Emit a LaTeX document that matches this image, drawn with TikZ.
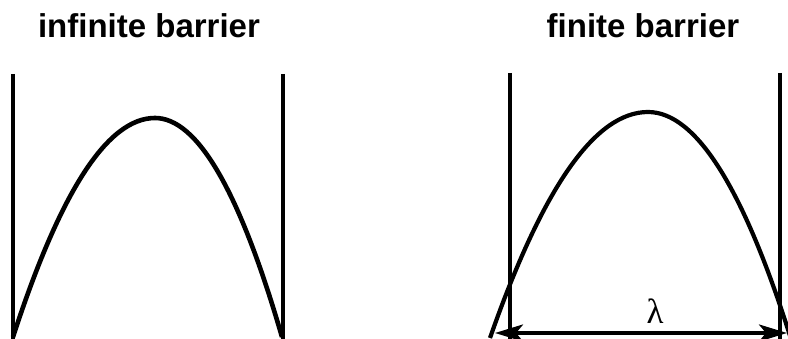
\documentclass[tikz,border=0pt]{standalone}
\usepackage{fontspec}
\setmainfont{Liberation Sans}
\newfontfamily\grfont{Liberation Serif}
\usetikzlibrary{arrows.meta}
\begin{document}
\begin{tikzpicture}[x=1pt,y=-1pt,
  titletext/.style={font=\fontsize{33}{40}\selectfont\bfseries, inner sep=0pt, anchor=base},
  wall/.style={line width=3.4pt},
  wave/.style={line width=4.6pt},
  wavethin/.style={line width=4.2pt},
  dim/.style={line width=3.8pt, {Stealth[length=28pt,width=17pt,inset=7pt]}-{Stealth[length=28pt,width=17pt,inset=7pt]}},
  lam/.style={font=\fontsize{35}{40}\selectfont\grfont, inner sep=0pt}]
\useasboundingbox (0,0) rectangle (788,339);
\begin{scope}
\clip (0,0) rectangle (788,339);
% titles
\node[titletext] (t1) at (149,38) {infinite barrier};
\node[titletext] (t2) at (643,38) {finite barrier};
% left panel
\coordinate (aLtop) at (13,74);
\coordinate (aLbot) at (13,340);
\coordinate (aRtop) at (283,74);
\coordinate (aRbot) at (283,340);
\draw[wall] (aLtop) -- (aLbot);
\draw[wall] (aRtop) -- (aRbot);
\coordinate (aS) at (13,337);
\coordinate (aP) at (155,118);
\coordinate (aE) at (282,337);
\draw[wave] (aS) .. controls (60.33,191) and (107.67,118) .. (aP)
   .. controls (197.33,118) and (239.67,191) .. (aE);
% right panel
\coordinate (bLtop) at (510,73);
\coordinate (bLbot) at (510,340);
\coordinate (bRtop) at (780,73);
\coordinate (bRbot) at (780,340);
\draw[wall] (bLtop) -- (bLbot);
\draw[wall] (bRtop) -- (bRbot);
\coordinate (bS) at (490,338);
\coordinate (bP) at (648,112);
\coordinate (bE) at (791,339);
\draw[wavethin] (bS) .. controls (542.67,187.33) and (595.33,112) .. (bP)
   .. controls (695.67,112) and (743.33,187.33) .. (bE);
\coordinate (al) at (495,333);
\coordinate (ar) at (787,333);
\draw[dim] (al) -- (ar);
\node[lam] (lambda) at (655,311) {λ};
\end{scope}
\end{tikzpicture}
\end{document}
